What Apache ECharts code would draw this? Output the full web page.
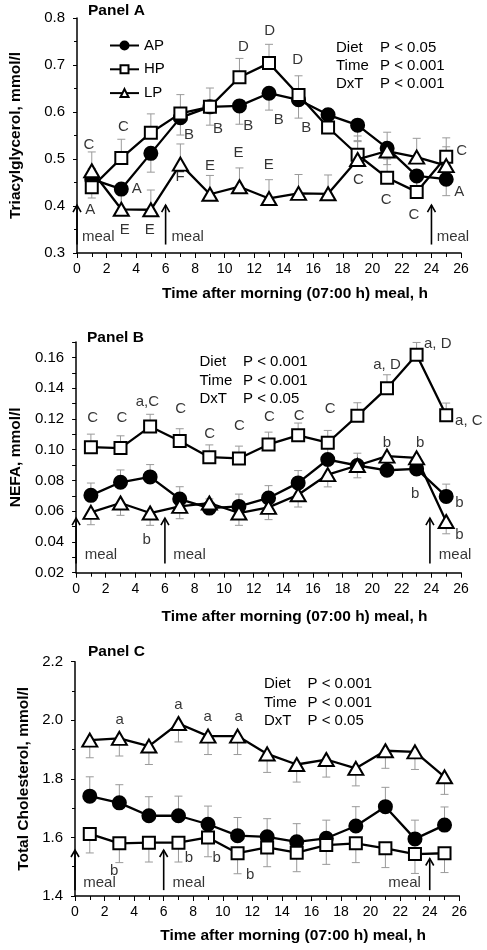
<!DOCTYPE html>
<html><head><meta charset="utf-8">
<script src="https://cdn.jsdelivr.net/npm/echarts@6/dist/echarts.min.js"></script>
<style>html,body{margin:0;padding:0;background:#fff}#c{width:487px;height:950px}</style>
</head><body><div id="c"></div>
<script>
// ---------- data ----------
const hours = [1,3,5,7,9,11,13,15,17,19,21,23,25];
const seriesNames = ['AP','HP','LP'];
const xAxisTitle = 'Time after morning (07:00 h) meal, h';
const yTitles = ['Triacylglycerol, mmol/l','NEFA, mmol/l','Total Cholesterol, mmol/l'];
const panelTitles = ['Panel A','Panel B','Panel C'];

// Panel A: triacylglycerol
const tgAP = [0.457,0.436,0.512,0.588,0.611,0.613,0.640,0.626,0.594,0.572,0.523,0.464,0.457];
const tgHP = [0.440,0.502,0.556,0.597,0.611,0.674,0.704,0.636,0.567,0.509,0.460,0.430,0.505];
const tgLP = [0.475,0.393,0.392,0.489,0.425,0.441,0.416,0.427,0.426,0.499,0.517,0.504,0.486];
const tgErrAP = [0.040,0.040,0.040,0.037,0.039,0.039,0.036,0.039,0.040,0.035,0.035,0.035,0.035];
const tgErrHP = [0.040,0.040,0.040,0.040,0.040,0.040,0.040,0.041,0.040,0.040,0.040,0.040,0.040];
const tgErrLP = [0.040,0.040,0.042,0.043,0.040,0.040,0.040,0.040,0.040,0.040,0.040,0.040,0.040];

// Panel B: NEFA
const nefaAP = [0.0703,0.0788,0.0823,0.0679,0.0620,0.0631,0.0686,0.0784,0.0936,0.0897,0.0866,0.0875,0.0696];
const nefaHP = [0.1016,0.1010,0.1150,0.1056,0.0951,0.0943,0.1034,0.1093,0.1045,0.1220,0.1400,0.1617,0.1223];
const nefaLP = [0.0592,0.0653,0.0588,0.0631,0.0653,0.0588,0.0625,0.0707,0.0838,0.0897,0.0958,0.0947,0.0533];
const nefaErrAP = [0.008,0.008,0.008,0.008,0.006,0.008,0.008,0.008,0.008,0.008,0.008,0.008,0.008];
const nefaErrHP = [0.0085,0.008,0.008,0.008,0.008,0.008,0.008,0.008,0.008,0.0085,0.0087,0.008,0.008];
const nefaErrLP = [0.008,0.008,0.008,0.008,0.006,0.008,0.008,0.008,0.008,0.008,0.008,0.008,0.008];

// Panel C: total cholesterol
const cholAP = [1.741,1.718,1.674,1.674,1.645,1.606,1.602,1.585,1.597,1.639,1.705,1.595,1.642];
const cholHP = [1.612,1.580,1.582,1.582,1.600,1.546,1.566,1.548,1.574,1.580,1.563,1.543,1.546];
const cholLP = [1.932,1.938,1.912,1.989,1.946,1.946,1.885,1.849,1.866,1.836,1.896,1.892,1.807];
const cholErrAP = [0.066,0.062,0.065,0.067,0.062,0.062,0.062,0.062,0.062,0.066,0.066,0.064,0.062];
const cholErrHP = [0.065,0.066,0.066,0.066,0.066,0.070,0.066,0.065,0.066,0.066,0.066,0.066,0.066];
const cholErrLP = [0.060,0.060,0.063,0.063,0.063,0.063,0.063,0.060,0.060,0.060,0.060,0.060,0.060];

// statistics text
const statsA = [['Diet','P < 0.05'],['Time','P < 0.001'],['DxT','P < 0.001']];
const statsB = [['Diet','P < 0.001'],['Time','P < 0.001'],['DxT','P < 0.05']];
const statsC = [['Diet','P < 0.001'],['Time','P < 0.001'],['DxT','P < 0.05']];

// letter annotations: [hour, value, text, align]
const annotA = [[0.8,0.530,'C'],[3.15,0.569,'C'],[7.58,0.551,'B'],[9.54,0.565,'B'],[11.6,0.570,'B'],
  [11.26,0.738,'D'],[10.94,0.513,'E'],[13.05,0.772,'D'],[14.94,0.711,'D'],[13.66,0.583,'B'],[15.53,0.567,'B'],
  [26.04,0.518,'C'],[0.9,0.391,'A'],[4.05,0.436,'A'],[3.24,0.350,'E'],[4.93,0.349,'E'],[6.98,0.462,'F'],
  [9.0,0.485,'E'],[12.99,0.487,'E'],[19.06,0.455,'C'],[20.93,0.413,'C'],[22.82,0.382,'C'],[25.88,0.430,'A'],
  [0.34,0.335,'meal','left'],[6.39,0.335,'meal','left'],[24.35,0.335,'meal','left']];
const annotB = [[1.12,0.1208,'C'],[3.09,0.121,'C'],[4.82,0.131,'a,C'],[7.06,0.1263,'C'],[9.03,0.110,'C'],
  [11.04,0.1158,'C'],[13.06,0.1215,'C'],[15.07,0.1223,'C'],[17.16,0.1263,'C'],[21.0,0.1552,'a, D'],
  [23.5,0.169,'a, D','left'],[25.6,0.119,'a, C','left'],[21.0,0.1045,'b'],[23.25,0.1045,'b'],[4.77,0.0413,'b'],
  [22.9,0.0712,'b'],[25.9,0.0653,'b'],[25.9,0.0446,'b'],
  [0.58,0.0316,'meal','left'],[6.56,0.0316,'meal','left'],[24.5,0.0316,'meal','left']];
const annotC = [[3.03,2.003,'a'],[6.99,2.052,'a'],[8.98,2.01,'a'],[11.08,2.01,'a'],[2.65,1.485,'b'],
  [7.7,1.529,'b'],[9.59,1.529,'b'],[11.85,1.472,'b'],
  [0.56,1.445,'meal','left'],[6.6,1.445,'meal','left'],[21.2,1.445,'meal','left']];

// meal arrows: [hour, from, to]
const arrowsA = [[0,0.318,0.402],[6,0.318,0.402],[24,0.318,0.402]];
const arrowsB = [[0,0.026,0.0555],[6,0.026,0.0555],[23.9,0.026,0.0555]];
const arrowsC = [[0,1.42,1.557],[6,1.42,1.557],[24,1.42,1.528]];

// ---------- chart ----------
const FONT = "'Liberation Sans', Arial, sans-serif";
const panels = [
  {vals:[tgAP,tgHP,tgLP], errs:[tgErrAP,tgErrHP,tgErrLP], dirs:[-1,1,1], annot:annotA, arrows:arrowsA,
   grid:{left:74.5,right:26,top:18,height:235}, y:{min:0.3,max:0.8,interval:0.1,split:2,fmt:v=>v.toFixed(1)},
   yGap:53, xGap:33, stats:statsA, statPos:[336,380,47.7,18.3], title:[88,11]},
  {vals:[nefaAP,nefaHP,nefaLP], errs:[nefaErrAP,nefaErrHP,nefaErrLP], dirs:[1,1,-1], annot:annotB, arrows:arrowsB,
   grid:{left:74,right:26,top:342,height:230.7}, y:{min:0.02,max:0.17,interval:0.01,split:0,
   fmt:v=>(Math.round(v*100)%2===0?v.toFixed(2):'')},
   yGap:50, xGap:36, stats:statsB, statPos:[199.5,243,362.3,18.5], title:[87,338]},
  {vals:[cholAP,cholHP,cholLP], errs:[cholErrAP,cholErrHP,cholErrLP], dirs:[1,-1,-1], annot:annotC, arrows:arrowsC,
   grid:{left:75,right:27.7,top:661.7,height:234.3}, y:{min:1.4,max:2.2,interval:0.2,split:2,fmt:v=>v.toFixed(1)},
   yGap:37, xGap:32, stats:statsC, statPos:[264,307.5,684,18.5], title:[88,652]}
];

const styles = [
  {symbol:'circle', size:13, fill:'#000'},
  {symbol:'rect', size:12, fill:'#fff'},
  {symbol:'triangle', size:[15,13], fill:'#fff'}
];

function errRender(params, api){
  const t=api.value(0), v=api.value(1), e=api.value(2);
  const p0=api.coord([t,v]), p1=api.coord([t,v+e]);
  const hw=4;
  return {type:'group', children:[
    {type:'line', shape:{x1:p0[0],y1:p0[1],x2:p1[0],y2:p1[1]}, style:{stroke:'#9a9a9a',lineWidth:1}},
    {type:'line', shape:{x1:p1[0]-hw,y1:p1[1],x2:p1[0]+hw,y2:p1[1]}, style:{stroke:'#9a9a9a',lineWidth:1}}
  ]};
}
function arrowRender(params, api){
  const t=api.value(0);
  const a=api.coord([t, api.value(1)]), b=api.coord([t, api.value(2)]);
  return {type:'group', children:[
    {type:'line', shape:{x1:a[0],y1:a[1],x2:b[0],y2:b[1]}, style:{stroke:'#000',lineWidth:1.6}},
    {type:'polyline', shape:{points:[[b[0]-4,b[1]+7],[b[0],b[1]],[b[0]+4,b[1]+7]]}, style:{stroke:'#000',lineWidth:1.6,fill:null}}
  ]};
}

const grids=[], xAxes=[], yAxes=[], series=[], graphics=[];
panels.forEach((p,k)=>{
  grids.push(p.grid);
  xAxes.push({gridIndex:k, type:'value', min:0, max:26, interval:2,
    axisLine:{show:true, onZero:false, lineStyle:{color:'#000', width:1.5}},
    axisTick:{show:true, length:5, lineStyle:{color:'#000', width:1}},
    minorTick:{show:true, splitNumber:2, length:4, lineStyle:{color:'#000', width:1}},
    splitLine:{show:false}, minorSplitLine:{show:false},
    axisLabel:{color:'#000', fontSize:14, margin:9, fontFamily:FONT},
    name:xAxisTitle, nameLocation:'middle', nameGap:p.xGap,
    nameTextStyle:{fontWeight:'bold', fontSize:15.5, color:'#000', fontFamily:FONT, padding:[0,0,0,52]}});
  const ya = {gridIndex:k, type:'value', min:p.y.min, max:p.y.max, interval:p.y.interval,
    axisLine:{show:true, onZero:false, lineStyle:{color:'#000', width:1.5}},
    axisTick:{show:true, length:4, lineStyle:{color:'#000', width:1}},
    splitLine:{show:false},
    axisLabel:{color:'#000', fontSize:15, margin:12, fontFamily:FONT, formatter:p.y.fmt, showMaxLabel:true},
    name:yTitles[k], nameLocation:'middle', nameGap:p.yGap,
    nameTextStyle:{fontWeight:'bold', fontSize:15.5, color:'#000', fontFamily:FONT}};
  if (p.y.split) ya.minorTick = {show:true, splitNumber:p.y.split, length:3, lineStyle:{color:'#000', width:1}};
  yAxes.push(ya);

  // error bars
  p.vals.forEach((vals,s)=>{
    series.push({type:'custom', xAxisIndex:k, yAxisIndex:k, silent:true, z:1,
      renderItem:errRender, encode:{x:0,y:1},
      data:hours.map((h,i)=>[h, vals[i], p.dirs[s]*p.errs[s][i]])});
  });
  // lines
  p.vals.forEach((vals,s)=>{
    const st=styles[s];
    series.push({type:'line', name:seriesNames[s], xAxisIndex:k, yAxisIndex:k, z:2+s,
      data:hours.map((h,i)=>[h, vals[i]]), symbol:st.symbol, symbolSize:st.size, showAllSymbol:true,
      lineStyle:{color:'#000', width:2.3}, itemStyle:{color:st.fill, borderColor:'#000', borderWidth:2},
      emphasis:{disabled:true}, animation:false});
  });
  // arrows
  series.push({type:'custom', xAxisIndex:k, yAxisIndex:k, silent:true, z:6, clip:false,
    renderItem:arrowRender, encode:{x:0,y:1}, data:p.arrows});
  // letters
  series.push({type:'scatter', xAxisIndex:k, yAxisIndex:k, silent:true, z:7, clip:false,
    symbolSize:0.1, itemStyle:{color:'transparent'},
    data:p.annot.map(a=>({value:[a[0],a[1]], name:a[2], label:{align:a[3]||'center'}})),
    label:{show:true, position:'inside', formatter:q=>q.name, color:'#000', fontSize:15, fontFamily:FONT}});

  // stats text
  const [x1,x2,y0,dy]=p.statPos;
  p.stats.forEach((row,r)=>{
    graphics.push({type:'text', x:x1, y:y0+r*dy, style:{text:row[0], fontSize:15, fontFamily:FONT, fill:'#000', verticalAlign:'middle'}});
    graphics.push({type:'text', x:x2, y:y0+r*dy, style:{text:row[1], fontSize:15, fontFamily:FONT, fill:'#000', verticalAlign:'middle'}});
  });
  graphics.push({type:'text', x:p.title[0], y:p.title[1], style:{text:panelTitles[k], fontSize:15.5, fontWeight:'bold', fontFamily:FONT, fill:'#000', verticalAlign:'middle'}});
});

const chart = echarts.init(document.getElementById('c'), null, {renderer:'canvas'});
chart.setOption({
  animation:false,
  backgroundColor:'#fff',
  grid:grids, xAxis:xAxes, yAxis:yAxes, series:series, graphic:graphics,
  legend:{data:seriesNames, orient:'vertical', left:104, top:33, itemWidth:29, itemHeight:10, itemGap:8.8,
    selectedMode:false, textStyle:{fontSize:15, color:'#000', fontFamily:FONT}}
});
</script></body></html>
